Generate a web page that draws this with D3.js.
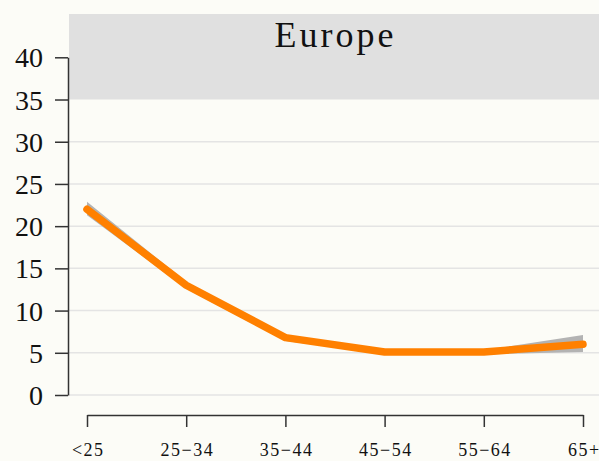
<!DOCTYPE html>
<html>
<head>
<meta charset="utf-8">
<script src="https://cdn.jsdelivr.net/npm/d3@7"></script>
<style>
  html, body { margin: 0; padding: 0; background: #fcfcf7; }
  svg { display: block; }
  text { font-family: "Liberation Serif", "Times New Roman", serif; fill: #111; }
</style>
</head>
<body>
<svg id="chart" width="599" height="461"></svg>
<script>
// Age groups along the x axis
const ageGroups = ["<25", "25−34", "35−44", "45−54", "55−64", "65+"];
// Estimated share (%) for Europe, with its uncertainty band
const estimate = [22.0, 13.0, 6.8, 5.1, 5.1, 6.0];
const lowerBound = [21.3, 12.6, 6.4, 4.9, 4.8, 5.1];
const upperBound = [22.9, 13.4, 7.1, 5.3, 5.3, 7.1];
const yTicks = [0, 5, 10, 15, 20, 25, 30, 35, 40];
const gridValues = [0, 5, 10, 15, 20, 25, 30];
const panelTitle = "Europe";

const rows = ageGroups.map((g, i) => ({
  group: g, value: estimate[i], lo: lowerBound[i], hi: upperBound[i]
}));

const svg = d3.select("#chart");
const W = 599;
const panelLeft = 69, panelRight = W;

const x = d3.scalePoint().domain(ageGroups).range([87, 583]);
const y = d3.scaleLinear().domain([0, 40]).range([395, 57.3]);

// facet strip above the plotting region
svg.append("rect")
  .attr("x", panelLeft).attr("y", 14)
  .attr("width", panelRight - panelLeft).attr("height", y(35) - 14)
  .attr("fill", "#e0e0e0");

svg.append("text")
  .attr("x", (panelLeft + panelRight) / 2 + 1.5)
  .attr("y", 47)
  .attr("text-anchor", "middle")
  .attr("font-size", 36)
  .attr("letter-spacing", 3)
  .text(panelTitle);

// horizontal grid lines
svg.append("g").selectAll("line")
  .data(gridValues).join("line")
  .attr("x1", panelLeft).attr("x2", panelRight)
  .attr("y1", d => y(d)).attr("y2", d => y(d))
  .attr("stroke", "#e4e4e4").attr("stroke-width", 1.5);

// uncertainty band
const band = d3.area()
  .x(d => x(d.group))
  .y0(d => y(d.lo))
  .y1(d => y(d.hi));
svg.append("path")
  .datum(rows)
  .attr("d", band)
  .attr("fill", "#b3b3b3");

// estimate line
const line = d3.line()
  .x(d => x(d.group))
  .y(d => y(d.value));
svg.append("path")
  .datum(rows)
  .attr("d", line)
  .attr("fill", "none")
  .attr("stroke", "#ff8000")
  .attr("stroke-width", 7.5)
  .attr("stroke-linejoin", "round")
  .attr("stroke-linecap", "round");

// y axis
const yAxis = svg.append("g")
  .attr("transform", "translate(68,0)")
  .call(d3.axisLeft(y).tickValues(yTicks).tickSize(13).tickPadding(12).tickSizeOuter(0));
yAxis.select(".domain").attr("stroke", "#333").attr("stroke-width", 1.5);
yAxis.selectAll(".tick line").attr("stroke", "#333").attr("stroke-width", 1.5);
yAxis.selectAll(".tick text")
  .attr("font-family", "Liberation Serif, serif")
  .attr("font-size", 28)
  .attr("fill", "#111")
  .attr("dy", "0.34em");

// x axis
const xAxis = svg.append("g")
  .attr("transform", "translate(0,415)")
  .call(d3.axisBottom(x).tickSize(12).tickPadding(16).tickSizeOuter(0));
xAxis.select(".domain").attr("stroke", "#333").attr("stroke-width", 1.5);
xAxis.selectAll(".tick line").attr("stroke", "#333").attr("stroke-width", 1.5);
xAxis.selectAll(".tick text")
  .attr("font-family", "Liberation Serif, serif")
  .attr("font-size", 18)
  .attr("letter-spacing", 1.5)
  .attr("fill", "#111")
  .attr("dx", 0.75);
</script>
</body>
</html>
